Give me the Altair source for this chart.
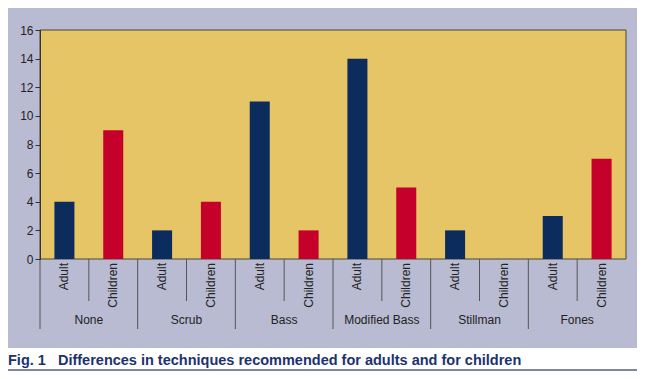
import altair as alt
import pandas as pd

groups = ["None", "Scrub", "Bass", "Modified Bass", "Stillman", "Fones"]
subs = ["Adult", "Children"]
adult = [4, 2, 11, 14, 2, 3]
children = [9, 4, 2, 5, 0, 7]
y_ticks = [0, 2, 4, 6, 8, 10, 12, 14, 16]
caption = "Fig. 1\u00a0\u00a0\u00a0Differences in techniques recommended for adults and for children"

rows = []
for g, a, c in zip(groups, adult, children):
    rows.append({"group": g, "sub": "Adult", "value": a})
    rows.append({"group": g, "sub": "Children", "value": c})
df = pd.DataFrame(rows)
gdf = pd.DataFrame({"group": groups})
one = pd.DataFrame({"k": [0]})

W, H = 586, 229
LAV = "#b9bbd2"
YEL = "#e5c566"
NAVY = "#0d2c5e"
RED = "#c4002b"
CAP = "#1b3270"
TXT = "#222222"
FONT = "Liberation Sans"

xscale = alt.Scale(domain=groups, paddingInner=0, paddingOuter=0)
xoscale = alt.Scale(domain=subs, paddingInner=0.59, paddingOuter=0.295)

def xg(bp=None):
    if bp is None:
        return alt.X("group:N", sort=groups, scale=xscale, axis=None)
    return alt.X("group:N", sort=groups, scale=xscale, axis=None, bandPosition=bp)

lav = alt.Chart(one).mark_rect(color=LAV).encode(
    x=alt.value(-40), x2=alt.value(W + 30), y=alt.value(-30), y2=alt.value(318)
)
yel = alt.Chart(one).mark_rect(fill=YEL, stroke="#4a4632", strokeWidth=1).encode(
    x=alt.value(0), x2=alt.value(W), y=alt.value(0), y2=alt.value(H)
)
bars = alt.Chart(df).mark_bar().encode(
    x=xg(),
    xOffset=alt.XOffset("sub:N", scale=xoscale),
    y=alt.Y("value:Q", scale=alt.Scale(domain=[0, 16]),
            axis=alt.Axis(values=y_ticks, title=None, grid=False, zindex=1,
                          domainColor="#333333", tickColor="#333333", tickSize=5,
                          labelPadding=2, labelFont=FONT, labelFontSize=12,
                          labelColor=TXT)),
    color=alt.Color("sub:N", scale=alt.Scale(domain=subs, range=[NAVY, RED]), legend=None),
)
short_rules = alt.Chart(gdf).mark_rule(color="#555555", strokeWidth=1).encode(
    x=xg(0.5), y=alt.value(H), y2=alt.value(H + 42)
)
long_rules = alt.Chart(gdf).mark_rule(color="#555555", strokeWidth=1).encode(
    x=xg(0), y=alt.value(H), y2=alt.value(H + 70)
)
sub_labels = alt.Chart(df).mark_text(angle=270, align="right", baseline="middle",
                                     font=FONT, fontSize=12, color=TXT).encode(
    x=xg(),
    xOffset=alt.XOffset("sub:N", scale=xoscale),
    y=alt.value(H + 4),
    text="sub:N",
)
grp_labels = alt.Chart(gdf).mark_text(baseline="middle", font=FONT, fontSize=12,
                                      color=TXT).encode(
    x=xg(0.5), y=alt.value(H + 61), text="group:N"
)
cap = alt.Chart(one).mark_text(text=caption, align="left", baseline="middle",
                               font=FONT, fontSize=14.5, fontWeight="bold",
                               color=CAP).encode(
    x=alt.value(-32), y=alt.value(331)
)
capline = alt.Chart(one).mark_rule(color="#80869c", strokeWidth=2).encode(
    x=alt.value(-40), x2=alt.value(W + 30), y=alt.value(340)
)

chart = alt.layer(lav, yel, bars, short_rules, long_rules, sub_labels, grp_labels,
                  cap, capline).properties(
    width=W, height=H,
    padding={"left": 32, "top": 22, "right": 11, "bottom": 112},
    autosize=alt.AutoSizeParams(type="none"),
    background="white",
).configure_view(stroke=None)

chart.save("out.html", embed_options={"renderer": "svg", "actions": False})
